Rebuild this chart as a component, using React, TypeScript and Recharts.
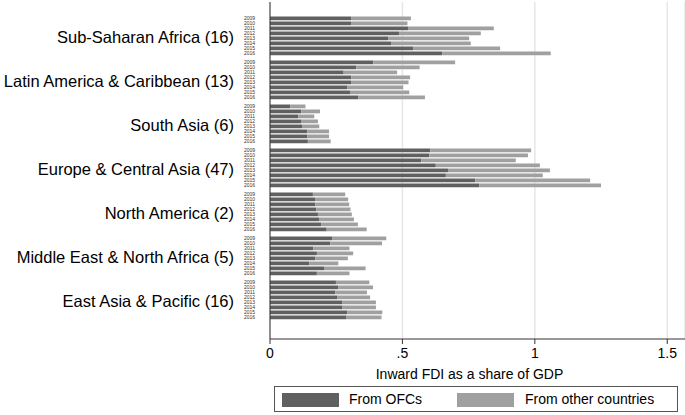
import React from "react";
import { Bar, BarChart, CartesianGrid, XAxis, YAxis } from "recharts";

const years = ["2009", "2010", "2011", "2012", "2013", "2014", "2015", "2016"];

const regions = [
  "Sub-Saharan Africa (16)",
  "Latin America & Caribbean (13)",
  "South Asia (6)",
  "Europe & Central Asia (47)",
  "North America (2)",
  "Middle East & North Africa (5)",
  "East Asia & Pacific (16)",
];

// share of GDP, inward FDI routed through offshore financial centres
const fromOfcs = [
  [0.306, 0.306, 0.521, 0.487, 0.446, 0.457, 0.542, 0.65],
  [0.39, 0.326, 0.278, 0.307, 0.306, 0.292, 0.302, 0.333],
  [0.077, 0.118, 0.107, 0.117, 0.121, 0.141, 0.141, 0.143],
  [0.605, 0.601, 0.571, 0.626, 0.672, 0.664, 0.775, 0.79],
  [0.162, 0.17, 0.171, 0.175, 0.181, 0.185, 0.194, 0.214],
  [0.236, 0.228, 0.163, 0.177, 0.171, 0.149, 0.206, 0.177],
  [0.249, 0.258, 0.246, 0.255, 0.272, 0.274, 0.292, 0.287],
];

const fromOthers = [
  [0.226, 0.213, 0.324, 0.309, 0.306, 0.301, 0.327, 0.41],
  [0.309, 0.239, 0.202, 0.222, 0.217, 0.211, 0.224, 0.252],
  [0.057, 0.071, 0.06, 0.064, 0.065, 0.082, 0.082, 0.086],
  [0.381, 0.373, 0.357, 0.393, 0.385, 0.366, 0.434, 0.46],
  [0.122, 0.125, 0.128, 0.129, 0.128, 0.132, 0.138, 0.151],
  [0.203, 0.195, 0.137, 0.137, 0.123, 0.109, 0.155, 0.123],
  [0.126, 0.131, 0.12, 0.123, 0.128, 0.126, 0.132, 0.134],
];

const xTicks = [0, 0.5, 1, 1.5];
const xTickLabels = ["0", ".5", "1", "1.5"];

const DARK = "#606060";
const LIGHT = "#a0a0a0";
const FONT = "'Liberation Sans', Arial, Helvetica, sans-serif";

// group step in bar slots (8 bars + gap)
const GROUP_STEP = 8.8;

const data = regions.flatMap((region, g) =>
  years.map((year, i) => ({
    pos: g * GROUP_STEP + i,
    region,
    year,
    ofc: fromOfcs[g][i],
    other: fromOthers[g][i],
  }))
);

const groupCenters = regions.map((_, g) => g * GROUP_STEP + (years.length - 1) / 2);
const yTicks = [...data.map((d) => d.pos), ...groupCenters];

const YTick = (props: any) => {
  const { x, y, payload } = props;
  const v = payload.value;
  const g = groupCenters.findIndex((c) => Math.abs(c - v) < 1e-6);
  if (g >= 0) {
    return (
      <text x={x - 28} y={y + 1} textAnchor="end" dominantBaseline="central" fontSize={16.5} fontFamily={FONT} fill="#000">
        {regions[g]}
      </text>
    );
  }
  const row = data.find((d) => Math.abs(d.pos - v) < 1e-6);
  return (
    <text x={x - 7} y={y} textAnchor="end" dominantBaseline="central" fontSize={5} fontFamily={FONT} fill="#333">
      {row ? row.year : ""}
    </text>
  );
};

const XLabel = (props: any) => {
  const { viewBox } = props;
  return (
    <text x={viewBox.x + viewBox.width / 2 - 8} y={viewBox.y + 40} textAnchor="middle" fontSize={14} fontFamily={FONT} fill="#000">
      Inward FDI as a share of GDP
    </text>
  );
};

export default function App() {
  return (
    <div style={{ position: "absolute", left: 0, top: 0, width: 685, height: 415, background: "#fff" }}>
      <BarChart
        width={685}
        height={415}
        data={data}
        layout="vertical"
        margin={{ top: 2, right: 0, bottom: 0, left: 0 }}
        barSize={3.8}
      >
        <CartesianGrid horizontal={false} stroke="#e6e6e6" strokeWidth={1.5} />
        <XAxis
          type="number"
          domain={[0, 1.567]}
          ticks={xTicks}
          allowDataOverflow
          height={76}
          tickSize={5}
          tickMargin={4}
          stroke="#333"
          tick={{ fontSize: 14, fontFamily: FONT, fill: "#000" }}
          tickFormatter={(v: number) => xTickLabels[xTicks.indexOf(v)] ?? String(v)}
          label={<XLabel />}
        />
        <YAxis
          type="number"
          dataKey="pos"
          domain={[-3.2, 64.2]}
          ticks={yTicks}
          interval={0}
          width={270}
          tickLine={false}
          stroke="#333"
          tick={<YTick />}
          allowDataOverflow
        />
        <Bar dataKey="ofc" stackId="fdi" fill={DARK} isAnimationActive={false} name="From OFCs" />
        <Bar dataKey="other" stackId="fdi" fill={LIGHT} isAnimationActive={false} name="From other countries" />
      </BarChart>
      <div
        style={{
          position: "absolute",
          left: 274,
          top: 386,
          width: 404,
          height: 26,
          border: "1px solid #555",
          boxSizing: "border-box",
          fontFamily: FONT,
          fontSize: 14,
          color: "#000",
        }}
      >
        <div style={{ position: "absolute", left: 7, top: 6, width: 57, height: 14, background: DARK }} />
        <div style={{ position: "absolute", left: 74, top: 4, lineHeight: "16px" }}>From OFCs</div>
        <div style={{ position: "absolute", left: 182, top: 6, width: 57, height: 14, background: LIGHT }} />
        <div style={{ position: "absolute", left: 250, top: 4, lineHeight: "16px" }}>From other countries</div>
      </div>
    </div>
  );
}
